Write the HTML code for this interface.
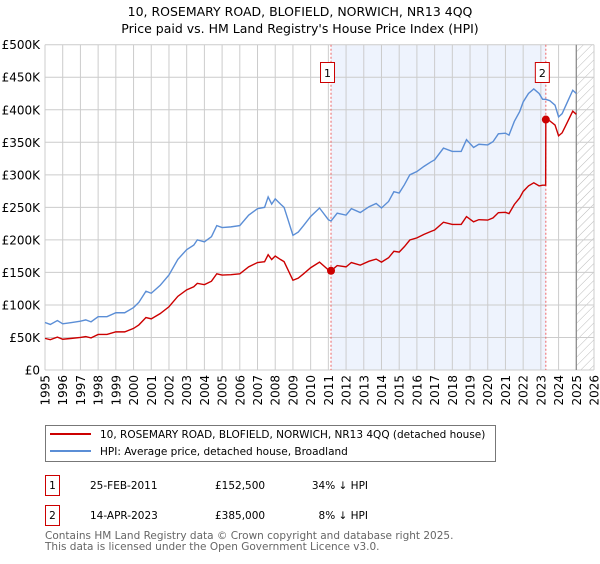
<!DOCTYPE html>
<html><head><meta charset="utf-8"><style>
body{margin:0;background:#fff;font-family:"DejaVu Sans","Liberation Sans",sans-serif}
svg text{font-family:"DejaVu Sans","Liberation Sans",sans-serif}
</style></head><body>
<svg id="c" width="600" height="560" xmlns="http://www.w3.org/2000/svg">
<text x="300" y="16" font-size="12.5" text-anchor="middle" fill="#000">10, ROSEMARY ROAD, BLOFIELD, NORWICH, NR13 4QQ</text>
<text x="300" y="33" font-size="12.5" text-anchor="middle" fill="#000">Price paid vs. HM Land Registry's House Price Index (HPI)</text>
<defs><pattern id="hatch" width="6" height="6" patternUnits="userSpaceOnUse" patternTransform="rotate(45)"><line x1="0" y1="0" x2="0" y2="6" stroke="#bbb" stroke-width="1"/></pattern></defs>
<g id="plot"></g>
<g>
<rect x="45.5" y="425.5" width="450" height="36" fill="#fff" stroke="#777"/>
<line x1="50" y1="434" x2="91" y2="434" stroke="#cc0000" stroke-width="2"/>
<text x="100" y="438" font-size="10.5">10, ROSEMARY ROAD, BLOFIELD, NORWICH, NR13 4QQ (detached house)</text>
<line x1="50" y1="451" x2="91" y2="451" stroke="#5b8ed6" stroke-width="2"/>
<text x="100" y="455" font-size="10.5">HPI: Average price, detached house, Broadland</text>
</g>
<g font-size="10.5">
<rect x="45.5" y="475.5" width="14" height="20" fill="#fff" stroke="#cc0000"/>
<text x="52.5" y="489" text-anchor="middle">1</text>
<text x="90" y="489">25-FEB-2011</text>
<text x="215" y="489">£152,500</text>
<text x="368" y="489" text-anchor="end">34% ↓ HPI</text>
<rect x="45.5" y="505.5" width="14" height="20" fill="#fff" stroke="#cc0000"/>
<text x="52.5" y="519" text-anchor="middle">2</text>
<text x="90" y="519">14-APR-2023</text>
<text x="215" y="519">£385,000</text>
<text x="368" y="519" text-anchor="end">8% ↓ HPI</text>
</g>
<text x="45" y="539" font-size="10.5" fill="#666">Contains HM Land Registry data © Crown copyright and database right 2025.</text>
<text x="45" y="550" font-size="10.5" fill="#666">This data is licensed under the Open Government Licence v3.0.</text>
</svg>
<script>
const hpiDates=[1995.0,1995.3,1995.7,1996.0,1996.5,1997.0,1997.3,1997.6,1998.0,1998.5,1999.0,1999.5,2000.0,2000.3,2000.7,2001.0,2001.5,2002.0,2002.5,2003.0,2003.4,2003.6,2004.0,2004.4,2004.7,2005.0,2005.5,2006.0,2006.5,2007.0,2007.4,2007.6,2007.8,2008.0,2008.3,2008.5,2008.7,2009.0,2009.3,2009.6,2010.0,2010.5,2011.0,2011.15,2011.5,2012.0,2012.3,2012.8,2013.3,2013.7,2014.0,2014.4,2014.7,2015.0,2015.3,2015.6,2016.0,2016.4,2016.8,2017.0,2017.5,2018.0,2018.5,2018.8,2019.2,2019.5,2020.0,2020.3,2020.6,2021.0,2021.2,2021.5,2021.8,2022.0,2022.3,2022.6,2022.9,2023.1,2023.28,2023.5,2023.8,2024.0,2024.2,2024.5,2024.8,2025.0];
const hpiValues=[73,70,76,71,73,75,77,74,82,82,88,88,96,104,121,118,130,146,170,185,192,200,197,205,222,219,220,222,238,248,250,266,255,263,255,250,233,207,212,222,236,249,231,229,241,238,248,242,251,256,249,259,274,272,285,300,305,313,320,323,341,336,336,354,342,347,346,351,363,364,361,382,397,412,425,432,425,416,416,414,407,389,394,412,430,425];
const paidDates=[1995.0,1995.3,1995.7,1996.0,1996.5,1997.0,1997.3,1997.6,1998.0,1998.5,1999.0,1999.5,2000.0,2000.3,2000.7,2001.0,2001.5,2002.0,2002.5,2003.0,2003.4,2003.6,2004.0,2004.4,2004.7,2005.0,2005.5,2006.0,2006.5,2007.0,2007.4,2007.6,2007.8,2008.0,2008.3,2008.5,2008.7,2009.0,2009.3,2009.6,2010.0,2010.5,2011.0,2011.15,2011.5,2012.0,2012.3,2012.8,2013.3,2013.7,2014.0,2014.4,2014.7,2015.0,2015.3,2015.6,2016.0,2016.4,2016.8,2017.0,2017.5,2018.0,2018.5,2018.8,2019.2,2019.5,2020.0,2020.3,2020.6,2021.0,2021.2,2021.5,2021.8,2022.0,2022.3,2022.6,2022.9,2023.1,2023.27,2023.28,2023.5,2023.8,2024.0,2024.2,2024.5,2024.8,2025.0];
const paidValues=[48.6,46.6,50.6,47.3,48.6,50,51.3,49.3,54.6,54.6,58.6,58.6,63.9,69.3,80.6,78.6,86.6,97.2,113.2,123.2,127.9,133.2,131.2,136.5,147.9,145.9,146.5,147.9,158.5,165.2,166.5,177.2,169.8,175.2,169.8,166.5,155.2,137.9,141.2,147.9,157.2,165.8,153.8,152.5,160.5,158.5,165.2,161.2,167.2,170.5,165.8,172.5,182.5,181.2,189.8,199.8,203.1,208.5,213.1,215.1,227.1,223.8,223.8,235.8,227.8,231.1,230.4,233.8,241.8,242.4,240.4,254.4,264.4,274.4,283,287.7,283,284,284,385,383,376.5,360,364.5,381,397.8,393];
const saleDates=[2011.15,2023.28];
const salePrices=[152.5,385];
const saleLabels=["1","2"];
const yTicks=[0,50,100,150,200,250,300,350,400,450,500];
const yTickLabels=["£0","£50K","£100K","£150K","£200K","£250K","£300K","£350K","£400K","£450K","£500K"];
const xTicks=[1995,1996,1997,1998,1999,2000,2001,2002,2003,2004,2005,2006,2007,2008,2009,2010,2011,2012,2013,2014,2015,2016,2017,2018,2019,2020,2021,2022,2023,2024,2025,2026];
const dataEnd=2025.0;

const X0=45,X1=594,Y0=370,Y1=44.7;
const xs=t=>X0+(t-1995)/(2026-1995)*(X1-X0);
const ys=v=>Y0-v/500*(Y0-Y1);
const NS="http://www.w3.org/2000/svg";
const g=document.getElementById('plot');
function mk(tag,attrs,parent){const e=document.createElementNS(NS,tag);for(const k in attrs)e.setAttribute(k,attrs[k]);(parent||g).appendChild(e);return e;}

const band=mk('rect',{x:xs(saleDates[0]),y:Y1,width:xs(saleDates[1])-xs(saleDates[0]),height:Y0-Y1,fill:'#eef3fd'});


const hat=mk('rect',{x:xs(dataEnd),y:Y1,width:X1-xs(dataEnd),height:Y0-Y1,fill:'url(#hatch)'});



yTicks.forEach((v,i)=>{
  const l=mk('line',{x1:X0,x2:X1,y1:ys(v),y2:ys(v),stroke:'#cccccc','stroke-width':1});
  
  
  const t=mk('text',{x:40,y:ys(v)+4.5,'font-size':12,'text-anchor':'end',fill:'#000'});
  t.textContent=yTickLabels[i];
  
  
});
xTicks.forEach(yr=>{
  const l=mk('line',{x1:xs(yr),x2:xs(yr),y1:Y1,y2:Y0,stroke:'#cccccc','stroke-width':1});
  
  
  const t=mk('text',{x:0,y:0,'font-size':12,'text-anchor':'end',fill:'#000',transform:`translate(${xs(yr)+4.5},${Y0+5}) rotate(-90)`});
  t.textContent=yr;
  
  
});
const el=mk('line',{x1:xs(dataEnd),x2:xs(dataEnd),y1:Y1,y2:Y0,stroke:'#888','stroke-width':1.2});



saleDates.forEach((d,i)=>{
  const l=mk('line',{x1:xs(d),x2:xs(d),y1:Y1,y2:Y0,stroke:'#ee6666','stroke-width':1,'stroke-dasharray':'2,2'});
  
  
});

const hp=mk('polyline',{points:hpiDates.map((d,i)=>xs(d)+','+ys(hpiValues[i])).join(' '),fill:'none',stroke:'#5b8ed6','stroke-width':1.4});


const pp=mk('polyline',{points:paidDates.map((d,i)=>xs(d)+','+ys(paidValues[i])).join(' '),fill:'none',stroke:'#cc0000','stroke-width':1.4});



saleDates.forEach((d,i)=>{
  const c=mk('circle',{cx:xs(d),cy:ys(salePrices[i]),r:4,fill:'#cc0000'});
  
  
  const b=mk('rect',{x:xs(d)-10.5,y:62.5,width:14,height:20,fill:'#fff',stroke:'#cc0000'});
  
  
  const t=mk('text',{x:xs(d)-3.5,y:77,'font-size':11,'text-anchor':'middle'});
  t.textContent=saleLabels[i];
  
  
});
</script>
</body></html>
